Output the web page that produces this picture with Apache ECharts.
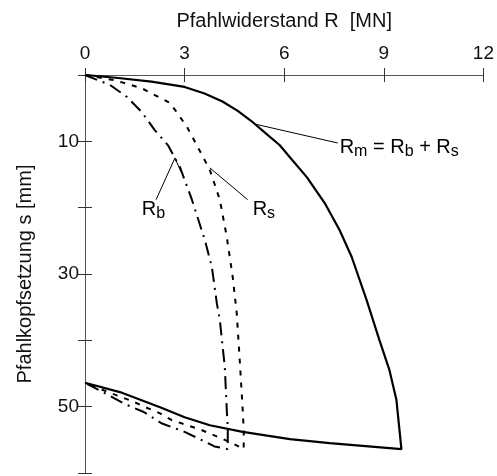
<!DOCTYPE html>
<html><head><meta charset="utf-8">
<script src="https://cdn.jsdelivr.net/npm/echarts@6/dist/echarts.min.js"></script>
<style>html,body{margin:0;padding:0;background:#fff}#c{width:497px;height:476px}</style>
</head><body><div id="c"></div>
<script>
// Tick labels
const xTickLabels = [0, 3, 6, 9, 12];
const yTickLabels = [10, 30, 50];

// Curves: [R (MN), s (mm)]
const rmCurve = [[0,0],[1.0,0.45],[2.0,1.0],[3.0,1.8],[3.6,2.8],[4.14,4.0],[4.6,5.4],[5.0,6.9],[5.56,9.3],[5.86,10.55],[6.17,12.4],[6.68,15.4],[7.22,19.3],[7.67,23.4],[8.03,27.4],[8.48,33.9],[8.87,40.0],[9.17,44.5],[9.38,49.0],[9.53,56.4],
  [7.37,55.5],[6.17,54.9],[4.75,53.8],[3.76,52.8],[3.0,51.6],[2.26,50.1],[1.05,47.8],[0,46.4]];
const rsCurve = [[0,0],[0.9,0.8],[1.71,2.0],[2.56,4.2],[3.07,7.8],[3.4,10.9],[3.76,14.3],[4.06,18.8],[4.27,24.4],[4.45,30.5],[4.57,35.9],[4.66,43.0],[4.75,50.5],[4.78,53.5],[4.78,56.4],
  [4.35,55.3],[3.5,53.5],[2.6,52.0],[2.26,51.0],[1.83,50.1],[1.44,49.2],[0.8,48.0],[0,46.4]];
const rbCurve = [[0,0],[0.75,1.5],[1.26,3.3],[1.71,5.6],[2.1,8.3],[2.5,10.6],[2.86,13.9],[3.22,18.8],[3.61,24.9],[3.82,28.9],[3.97,34.4],[4.06,36.9],[4.21,44.0],[4.27,50.5],[4.3,53.2],[4.3,56.4],
  [3.9,56.0],[3.5,55.0],[3.0,53.8],[2.3,52.5],[1.77,50.8],[1.2,49.6],[0.5,47.7],[0,46.4]];

// Annotation leaders (data units)
const rmLeader = [[5.11,7.39],[7.61,10.25]];
const rsLeader = [[3.76,14.0],[4.9,18.8]];
const rbLeader = [[2.14,18.8],[2.71,12.5],[2.89,14.6]];
const annotations = [
  {at:[7.67,11.1], text:'{R|R}{S|m}{R| = R}{S|b}{R| + R}{S|s}'},
  {at:[5.05,20.5], text:'{R|R}{S|s}'},
  {at:[1.71,20.5], text:'{R|R}{S|b}'}
];

const FONT = 'Liberation Sans, Arial, Helvetica, sans-serif';
const chart = echarts.init(document.getElementById('c'), null, {renderer:'canvas'});
const axisLineStyle = {color:'#555', width:1};
const tickCommon = {show:true, inside:true, length:7, lineStyle:{color:'#333', width:1}};

const leaderStyle = {color:'#000', width:1, type:'solid'};
chart.setOption({
  animation:false,
  grid:{left:85, right:13, top:75, bottom:3},
  xAxis:[{
    type:'value', position:'top', min:0, max:12, interval:3,
    name:'Pfahlwiderstand R  [MN]', nameLocation:'middle', nameGap:44,
    nameTextStyle:{fontFamily:FONT, fontSize:20, color:'#111'},
    axisLine:{show:true, lineStyle:axisLineStyle}, axisTick:tickCommon,
    axisLabel:{fontFamily:FONT, fontSize:19, color:'#111', margin:12,
      formatter:v => xTickLabels.includes(v) ? String(v) : ''},
    splitLine:{show:false}
  },{
    type:'value', position:'bottom', min:0, max:12, interval:3,
    axisLine:{show:true, lineStyle:axisLineStyle}, axisTick:tickCommon,
    axisLabel:{show:false}, splitLine:{show:false}
  }],
  yAxis:[{
    type:'value', inverse:true, position:'left', min:0, max:60, interval:10,
    name:'Pfahlkopfsetzung s [mm]', nameLocation:'middle', nameGap:50, nameRotate:90,
    nameTextStyle:{fontFamily:FONT, fontSize:20, color:'#111'},
    axisLine:{show:true, lineStyle:axisLineStyle}, axisTick:tickCommon,
    axisLabel:{fontFamily:FONT, fontSize:19, color:'#111', margin:6,
      formatter:v => yTickLabels.includes(v) ? String(v) : ''},
    splitLine:{show:false}
  },{
    type:'value', inverse:true, position:'right', min:0, max:60, interval:10,
    axisLine:{show:true, lineStyle:axisLineStyle}, axisTick:tickCommon,
    axisLabel:{show:false}, splitLine:{show:false}
  }],
  series:[
    {type:'line', name:'Rm', data:rmCurve, showSymbol:false, smooth:false, lineStyle:{color:'#000', width:2.2}},
    {type:'line', name:'Rs', data:rsCurve, showSymbol:false, smooth:false, lineStyle:{color:'#000', width:2, type:[5,7]}},
    {type:'line', name:'Rb', data:rbCurve, showSymbol:false, smooth:false, lineStyle:{color:'#000', width:2, type:[13,6,2,6]}},
    {type:'line', data:rmLeader, showSymbol:false, silent:true, lineStyle:leaderStyle},
    {type:'line', data:rsLeader, showSymbol:false, silent:true, lineStyle:leaderStyle},
    {type:'line', data:rbLeader, showSymbol:false, silent:true, lineStyle:leaderStyle}
  ]
});

const rich = {
  R:{fontFamily:FONT, fontSize:20, color:'#111', lineHeight:22, verticalAlign:'top'},
  S:{fontFamily:FONT, fontSize:16, color:'#111', lineHeight:16, verticalAlign:'bottom', padding:[10,0,0,0]}
};
chart.setOption({
  graphic: annotations.map(a => {
    const p = chart.convertToPixel({xAxisIndex:0, yAxisIndex:0}, a.at);
    return {type:'text', x:p[0], y:p[1] - 11, silent:true,
      style:{text:a.text, rich:rich, align:'left', verticalAlign:'top'}};
  })
});
</script>
</body></html>
